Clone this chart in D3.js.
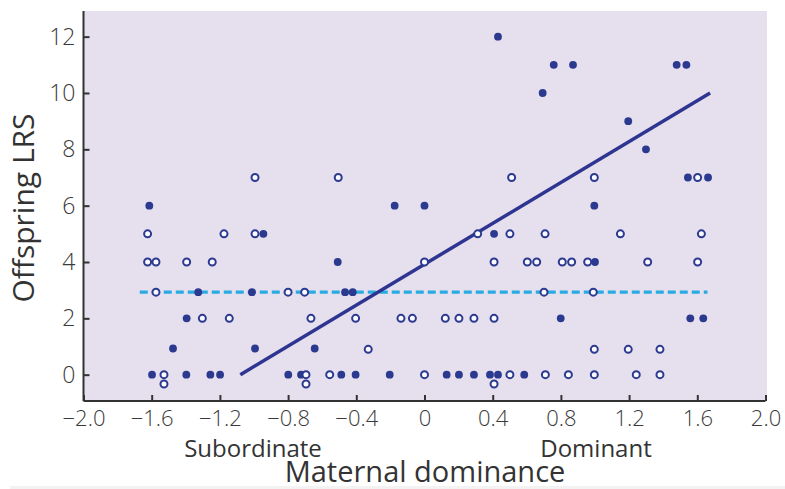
<!DOCTYPE html>
<html>
<head>
<meta charset="utf-8">
<script src="https://cdn.jsdelivr.net/npm/d3@7"></script>
<style>
html,body{margin:0;padding:0;background:#fff;}
svg{display:block;font-family:"Open Sans",sans-serif;}
</style>
</head>
<body>
<svg id="chart" width="785" height="489"></svg>
<script>
// ---- data ----
const filledX = [-1.614,-0.945,-1.327,-1.012,-1.395,-1.475,-0.994,-0.644,-1.598,-1.397,-1.256,-1.199,-0.799,-0.724,
  -0.175,0,0.408,-0.509,-0.466,-0.421,-0.488,-0.404,-0.204,0.13,0.202,0.29,0.384,0.431,0.585,
  1.299,1.545,1.663,0.996,1.0,0.799,1.559,1.635,
  0.431,0.758,0.871,1.479,1.536,0.693,1.195];
const filledY = [6,5,2.93,2.93,2,0.93,0.93,0.93,0,0,0,0,0,0,
  6,6,5,4,2.93,2.93,0,0,0,0,0,0,0,0,0,
  8,7,7,6,4,2,2,2,
  12,11,11,11,11,10,9];
const openX = [-1.624,-1.624,-1.575,-1.575,-0.80,-0.703,-0.994,-1.176,-0.994,-1.395,-1.245,-1.303,-1.145,-0.666,-1.528,-1.528,-0.695,-0.695,
  -0.506,0.511,0.312,0.501,0,0.408,0.603,0.658,-0.404,-0.138,-0.071,0.122,0.202,0.29,0.408,-0.33,-0.556,0,0.408,0.501,
  0.996,1.602,0.707,1.149,1.624,0.808,0.863,0.957,1.309,1.602,0.701,0.99,0.996,1.195,1.381,0.709,0.844,0.996,1.242,1.381];
const openY = [5,4,4,2.93,2.93,2.93,7,5,5,4,4,2,2,2,0,-0.33,0,-0.33,
  7,7,5,5,4,4,4,4,2,2,2,2,2,2,2,0.9,0,0,-0.33,0,
  7,7,5,5,5,4,4,4,4,4,2.93,2.93,0.9,0.9,0.9,0,0,0,0,0];
const fitX = [-1.08, 1.675];
const fitY = [0, 10.0];
const meanX = [-1.67, 1.66];
const meanY = [2.93, 2.93];
const xTicks = [-2.0,-1.6,-1.2,-0.8,-0.4,0,0.4,0.8,1.2,1.6,2.0];
const xTickLabels = ["\u22122.0","\u22121.6","\u22121.2","\u22120.8","\u22120.4","0","0.4","0.8","1.2","1.6","2.0"];
const yTicks = [0,2,4,6,8,10,12];
const yTickLabels = ["0","2","4","6","8","10","12"];

// ---- layout ----
const L = 83.5, R = 765.5, T = 11, B = 401;
const svg = d3.select("#chart");
const x = d3.scaleLinear().domain([-2, 2]).range([L, R]);
const y = d3.scaleLinear().domain([-0.934, 12.91]).range([B, T]);

svg.append("rect").attr("x", 10).attr("y", 486).attr("width", 775).attr("height", 3).attr("fill", "#f3f3f3");
svg.append("rect").attr("x", L).attr("y", T).attr("width", 767 - L).attr("height", B - T).attr("fill", "#e6dfee");

// axes
const xAxis = d3.axisBottom(x).tickValues(xTicks).tickFormat((d,i) => xTickLabels[i]).tickSizeInner(-6).tickSizeOuter(0).tickPadding(9);
const gx = svg.append("g").attr("transform", `translate(0,${B})`).call(xAxis);
const yAxis = d3.axisLeft(y).tickValues(yTicks).tickFormat((d,i) => yTickLabels[i]).tickSizeInner(-6).tickSizeOuter(0).tickPadding(8);
const gy = svg.append("g").attr("transform", `translate(${L},0)`).call(yAxis);
[gx, gy].forEach(g => {
  g.select(".domain").attr("stroke", "#333").attr("stroke-width", 2);
  g.selectAll(".tick line").attr("stroke", "#333").attr("stroke-width", 2);
  g.selectAll(".tick text").attr("fill", "#3a3a3a").style("font-size", "22px").style("font-weight", "300").style("font-family", "'Open Sans',sans-serif");
});
gy.selectAll(".tick text").style("font-size", "23px");
gx.select(".domain").attr("d", `M${L},0H${R}`);
gy.select(".domain").attr("d", `M0,${T}V${B}`);

// mean dashed line
svg.append("line")
  .attr("x1", x(meanX[0])).attr("x2", x(meanX[1]))
  .attr("y1", y(meanY[0])).attr("y2", y(meanY[1]))
  .attr("stroke", "#29abe2").attr("stroke-width", 3.2).attr("stroke-dasharray", "8,4");

// regression line
svg.append("line")
  .attr("x1", x(fitX[0])).attr("x2", x(fitX[1]))
  .attr("y1", y(fitY[0])).attr("y2", y(fitY[1]))
  .attr("stroke", "#2e3590").attr("stroke-width", 3.5);

// points
const col = "#2b3a8f";
svg.append("g").selectAll("circle").data(filledX).join("circle")
  .attr("cx", d => x(d)).attr("cy", (d,i) => y(filledY[i])).attr("r", 3.9).attr("fill", col);
svg.append("g").selectAll("circle").data(openX).join("circle")
  .attr("cx", d => x(d)).attr("cy", (d,i) => y(openY[i])).attr("r", 3.5)
  .attr("fill", "#fbfaff").attr("stroke", col).attr("stroke-width", 2);

// labels
svg.append("text").attr("x", 253).attr("y", 457).attr("text-anchor", "middle")
  .attr("fill", "#333").style("font-size", "24px").text("Subordinate");
svg.append("text").attr("x", 596).attr("y", 457).attr("text-anchor", "middle")
  .attr("fill", "#333").style("font-size", "24px").text("Dominant");
svg.append("text").attr("x", 425).attr("y", 482).attr("text-anchor", "middle")
  .attr("fill", "#333").style("font-size", "29px").text("Maternal dominance");
svg.append("text").attr("transform", "translate(33.5,208) rotate(-90)").attr("text-anchor", "middle")
  .attr("fill", "#333").style("font-size", "30px").text("Offspring LRS");
</script>
</body>
</html>
